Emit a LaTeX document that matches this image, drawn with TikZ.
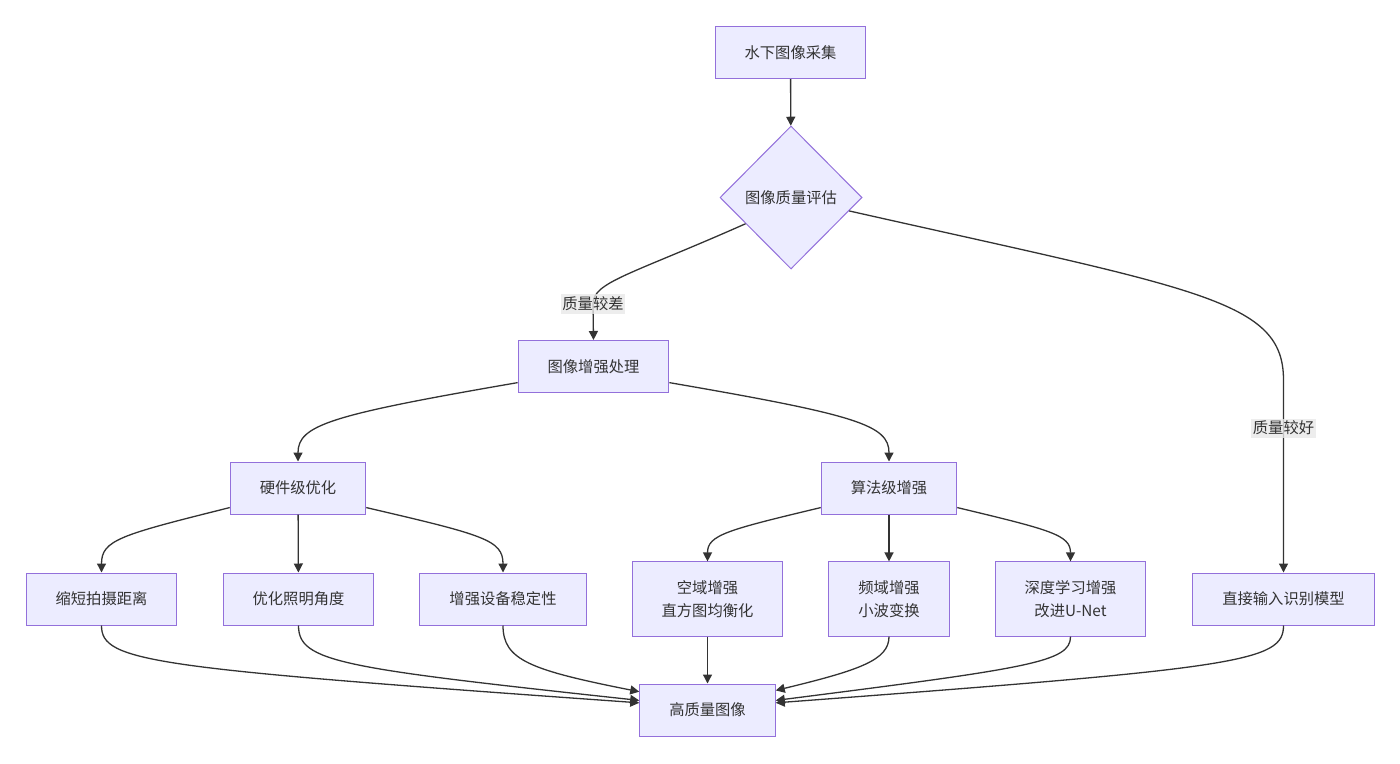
\documentclass[tikz,border=0pt]{standalone}
\usepackage{fontspec}
\setmainfont{Noto Sans CJK SC}
\usetikzlibrary{shapes.geometric,arrows.meta}
\definecolor{nodefill}{HTML}{ECECFF}
\definecolor{nodeline}{HTML}{9370DB}
\definecolor{edgeline}{HTML}{333333}
\definecolor{lblfill}{HTML}{E8E8E8}
\begin{document}
\begin{tikzpicture}[x=1pt,y=-1pt,line width=1.3pt,>={Stealth[length=9pt,width=9pt,inset=0pt]},
	font=\fontsize{15.3}{23}\selectfont,text=edgeline,
	box/.style={draw=nodeline,fill=nodefill,line width=1pt,inner xsep=29.5pt,inner ysep=18.5pt,minimum height=52pt,align=center},
	decide/.style={diamond,draw=nodeline,fill=nodefill,line width=1pt,inner sep=0pt,minimum width=142pt,minimum height=143pt},
	lbl/.style={fill=lblfill,fill opacity=0.8,text opacity=1,inner xsep=1.5pt,inner ysep=2.5pt},
	edge/.style={->,draw=edgeline}]
	\useasboundingbox (0,0) rectangle (1400,763);
	% nodes
	\node[box] (acq) at (790.5,52.5) {水下图像采集};
	\node[decide] (eval) at (791,197.5) {图像质量评估};
	\node[box] (enh) at (593.5,366.5) {图像增强处理};
	\node[box] (hw) at (298,488) {硬件级优化};
	\node[box] (alg) at (889,488) {算法级增强};
	\node[box] (short) at (101.5,599) {缩短拍摄距离};
	\node[box] (light) at (298.5,599) {优化照明角度};
	\node[box] (stab) at (503,599) {增强设备稳定性};
	\node[box] (spat) at (707.5,599) {空域增强\\直方图均衡化};
	\node[box] (freq) at (889,599) {频域增强\\小波变换};
	\node[box] (deep) at (1070.5,599) {深度学习增强\\改进U-Net};
	\node[box] (direct) at (1283.5,599) {直接输入识别模型};
	\node[box] (out) at (707.5,710) {高质量图像};
	% edges
	\draw[edge] (acq) -- (eval);
	\draw[edge] (eval.210) .. controls (630,275) and (593,282) .. (593,304) node[lbl] (poor) {质量较差} -- (enh.north);
	\draw[edge] (eval.347) .. controls (1200,290) and (1283.5,300) .. (1283.5,380) -- (direct.north) node[lbl,pos=0.25] (good) {质量较好};
	\draw[edge] (enh.192) .. controls (330,415) and (298,425) .. (hw.north);
	\draw[edge] (enh.348) .. controls (857,415) and (889,425) .. (alg.north);
	\draw[edge] (hw.196) .. controls (120,535) and (101.5,540) .. (short.north);
	\draw[edge] (hw) -- (light);
	\draw[edge] (hw.344) .. controls (484,535) and (503,540) .. (stab.north);
	\draw[edge] (alg.196) .. controls (727,530) and (707.5,535) .. (spat.north);
	\draw[edge] (alg) -- (freq);
	\draw[edge] (alg.344) .. controls (1051,530) and (1070.5,535) .. (deep.north);
	\draw[edge] (short.south) .. controls (101.5,662) and (150,668) .. (out.174);
	\draw[edge] (light.south) .. controls (298.5,662) and (340,668) .. (out.172);
	\draw[edge] (stab.south) .. controls (503,660) and (530,670) .. (out.165);
	\draw[edge] (spat) -- (out);
	\draw[edge] (freq.south) .. controls (889,660) and (860,670) .. (out.16);
	\draw[edge] (deep.south) .. controls (1070.5,662) and (1030,668) .. (out.8);
	\draw[edge] (direct.south) .. controls (1283.5,662) and (1240,668) .. (out.6);
\end{tikzpicture}
\end{document}
